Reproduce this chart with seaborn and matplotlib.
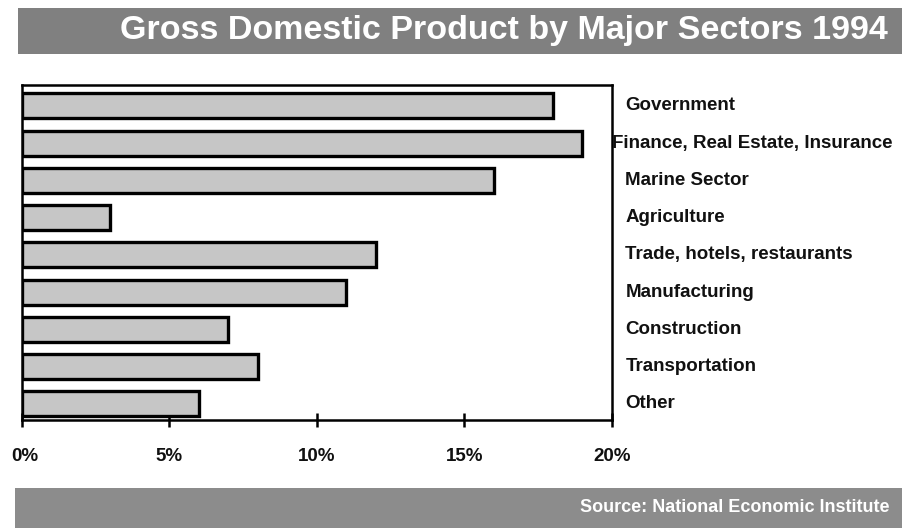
import matplotlib
matplotlib.use("Agg")
import matplotlib.pyplot as plt
from matplotlib.patches import Rectangle
import seaborn as sns
import pandas as pd

sectors = ["Government", "Finance, Real Estate, Insurance", "Marine Sector",
           "Agriculture", "Trade, hotels, restaurants", "Manufacturing",
           "Construction", "Transportation", "Other"]
shares = [18, 19, 16, 3, 12, 11, 7, 8, 6]
tick_values = [0, 5, 10, 15, 20]
tick_labels = ["0%", "5%", "10%", "15%", "20%"]
title = "Gross Domestic Product by Major Sectors 1994"
source = "Source: National Economic Institute"

sns.set_theme(style="white")
plt.rcParams["font.family"] = ["Liberation Sans", "DejaVu Sans"]

df = pd.DataFrame({"sector": sectors, "share": shares})

W, H = 903, 528
fig = plt.figure(figsize=(W / 100, H / 100), dpi=100)
ax = fig.add_axes([22 / W, 1 - 420 / H, (612 - 22) / W, (420 - 85) / H])

sns.barplot(data=df, x="share", y="sector", orient="h", ax=ax,
            color="#c6c6c6", edgecolor="black", linewidth=2.4,
            width=0.67, saturation=1)

ax.set_xlim(0, 20)
ax.set_ylim(len(sectors) - 1 + 0.43, -0.56)
ax.set_xlabel("")
ax.set_ylabel("")
ax.set_yticks([])
ax.set_xticks(tick_values)
ax.set_xticklabels([])
ax.tick_params(axis="x", direction="inout", length=10, width=1.8, bottom=True, color="black")
for s in ax.spines.values():
    s.set_color("black")
    s.set_linewidth(1.8)

# category labels at right
for i, name in enumerate(sectors):
    ax.text(20.45 if i != 1 else 20.0, i, name, ha="left", va="center",
            fontsize=13.5, fontweight="bold", color="#111111", clip_on=False)

# tick labels
for v, lab in zip(tick_values, tick_labels):
    ax.text(v + (0.08 if v == 0 else 0), len(sectors) - 1 + 0.43 + 0.97, lab,
            ha="center", va="center", fontsize=13.5, fontweight="bold",
            color="#111111", clip_on=False)

# title band
fig.patches.append(Rectangle((18 / W, 1 - 54 / H), 1 - 18 / W, 46 / H,
                             transform=fig.transFigure, facecolor="#808080",
                             edgecolor="none", zorder=0))
fig.text(120 / W, 1 - 31 / H, title, ha="left", va="center", color="white",
         fontsize=24.5, fontweight="bold")

# footer band
fig.patches.append(Rectangle((15 / W, 0), 1 - 15 / W, 40 / H,
                             transform=fig.transFigure, facecolor="#8c8c8c",
                             edgecolor="none", zorder=0))
fig.text(890 / W, 20 / H, source, ha="right", va="center", color="white",
         fontsize=13, fontweight="bold")

fig.savefig("out.png", dpi=100)
